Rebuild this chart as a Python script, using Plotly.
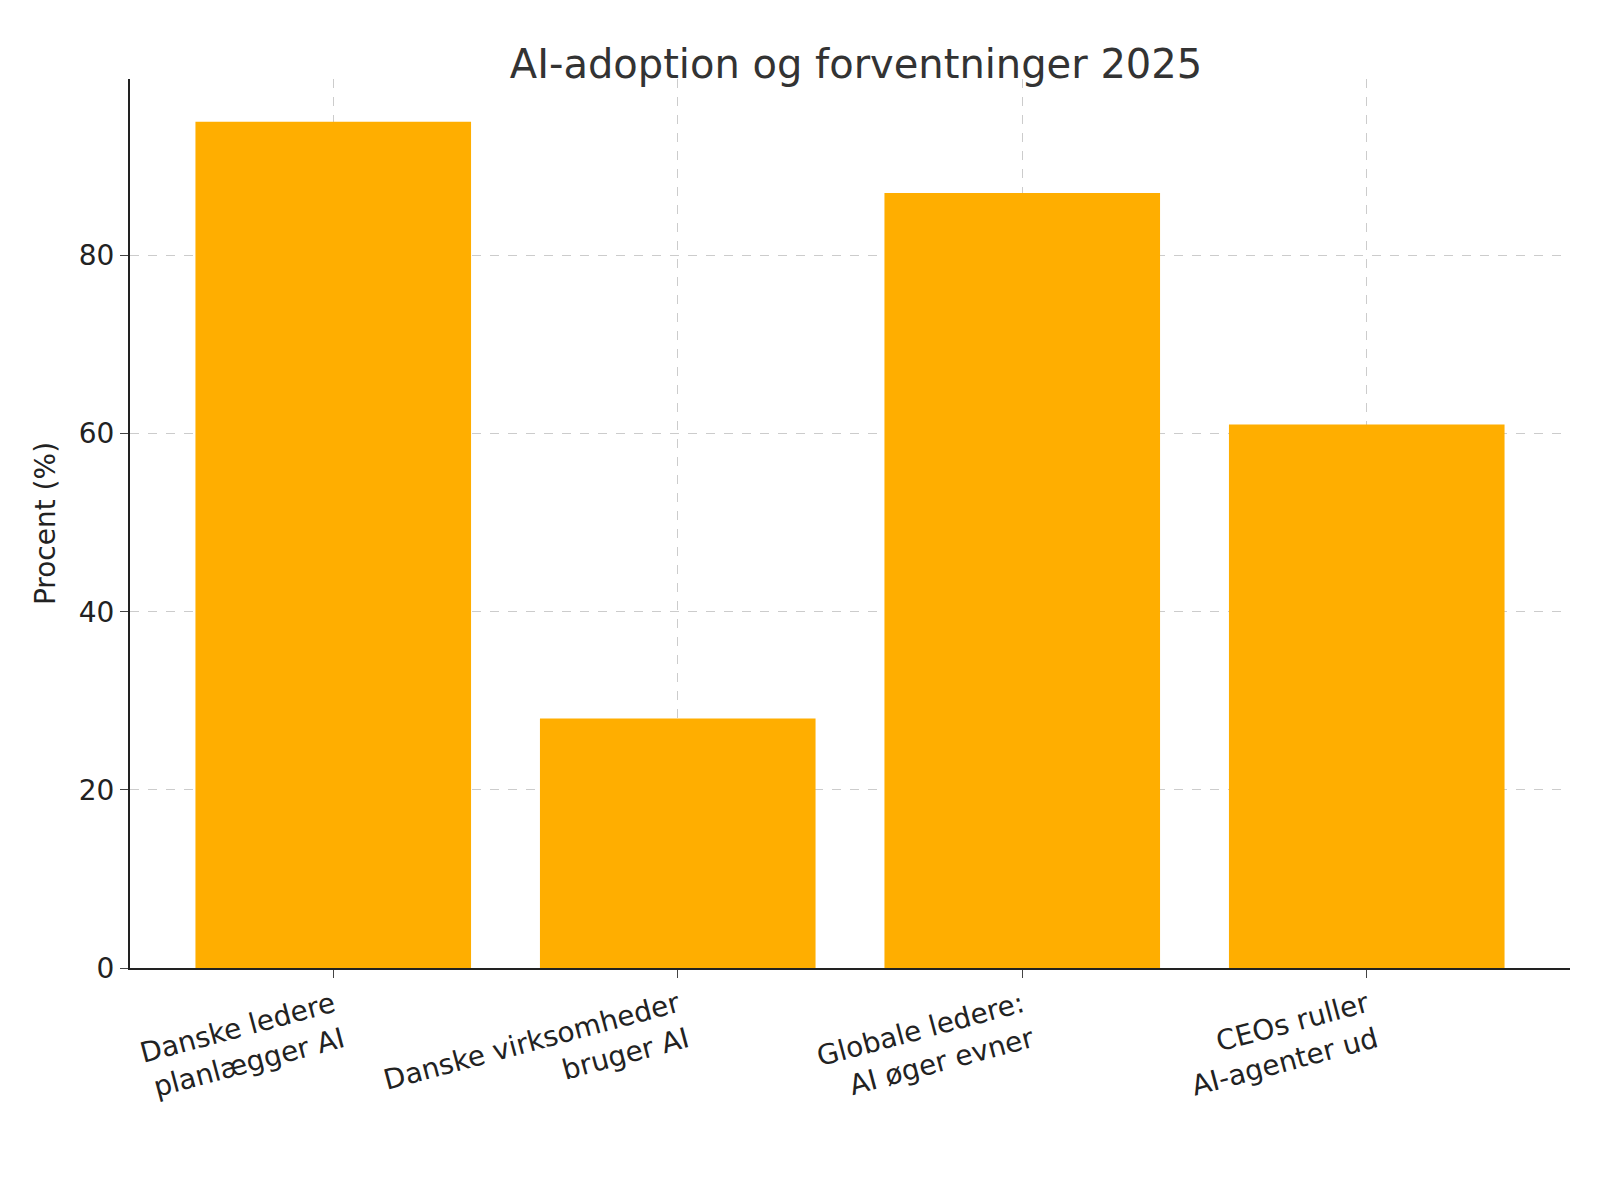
import plotly.graph_objects as go

categories = [
    "Danske ledere<br>planlægger AI",
    "Danske virksomheder<br>bruger AI",
    "Globale ledere:<br>AI øger evner",
    "CEOs ruller<br>AI-agenter ud",
]
values = [95, 28, 87, 61]
y_ticks = [0, 20, 40, 60, 80]

fig = go.Figure(
    go.Bar(x=list(range(len(categories))), y=values, width=0.8,
           marker=dict(color="#FFAE00", line=dict(width=0)))
)

fig.update_layout(
    width=1600, height=1200,
    paper_bgcolor="white", plot_bgcolor="white",
    font=dict(family="DejaVu Sans", color="#222", size=28),
    title=dict(text="AI-adoption og forventninger 2025", x=0.53, y=0.965,
               xanchor="center", font=dict(size=40, color="#333")),
    margin=dict(l=122, r=38, t=71, b=240),
    showlegend=False,
)
fig.update_xaxes(
    range=[-0.59, 3.59], tickvals=list(range(len(categories))),
    ticktext=categories, tickangle=-15,
    showline=True, linecolor="#222", linewidth=2,
    ticks="outside", ticklen=8, tickcolor="#444",
    showgrid=True, gridcolor="#ccc", griddash="dash", gridwidth=1,
    zeroline=False, layer="above traces",
)
fig.update_yaxes(
    range=[0, 99.8], tickvals=y_ticks,
    title=dict(text="Procent (%)", font=dict(size=28)),
    showline=True, linecolor="#222", linewidth=2,
    ticks="outside", ticklen=8, tickcolor="#444",
    showgrid=True, gridcolor="#ccc", griddash="dash", gridwidth=1,
    zeroline=False, layer="above traces",
)

fig.write_html("out.html")
